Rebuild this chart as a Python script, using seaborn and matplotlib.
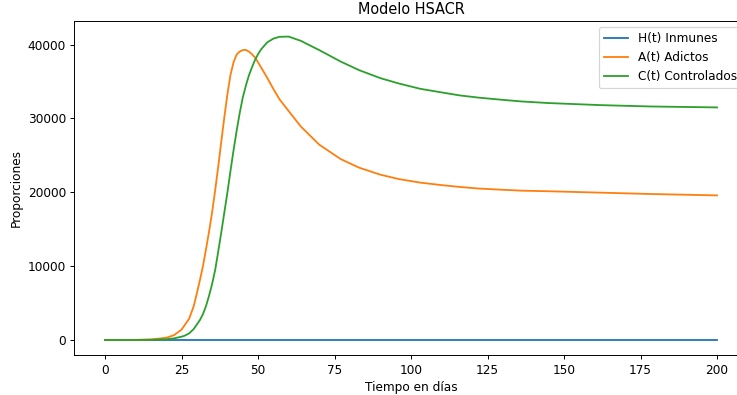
import matplotlib
matplotlib.use("Agg")
import matplotlib.pyplot as plt
import seaborn as sns
import pandas as pd

# valores
t = [0, 5, 10, 15, 20, 22.5, 25, 26, 27.5, 29, 30, 31, 32, 33, 34, 35, 36, 37,
     38, 39, 40, 41, 42, 43, 44, 45, 46, 47, 48, 49, 50, 51, 53, 55, 57, 60,
     64, 70, 77, 83, 90, 96, 103, 110, 116, 122, 129, 136, 145, 162, 178, 200]
H = [0] * len(t)
A = [0, 5, 20, 80, 300, 650, 1400, 2000, 2900, 4600, 6300, 8100, 10000,
     12300, 14700, 17300, 20300, 23500, 26900, 30200, 33300, 35900, 37600,
     38650, 39050, 39250, 39280, 39050, 38700, 38250, 37600, 36900, 35500,
     34000, 32600, 31000, 28900, 26450, 24500, 23340, 22380, 21790, 21310,
     20970, 20720, 20510, 20360, 20220, 20140, 19950, 19770, 19580]
C = [0, 2, 8, 30, 100, 220, 450, 580, 900, 1500, 2100, 2700, 3500, 4600,
     6000, 7600, 9500, 12000, 14600, 17300, 20000, 22900, 25700, 28300,
     30700, 32800, 34400, 35800, 36900, 37900, 38700, 39350, 40300, 40800,
     41050, 41080, 40500, 39250, 37700, 36540, 35450, 34730, 34010, 33520,
     33110, 32820, 32550, 32300, 32080, 31800, 31620, 31490]
labels = ['H(t) Inmunes', 'A(t) Adictos', 'C(t) Controlados']

df = pd.DataFrame({'t': t, 'H': H, 'A': A, 'C': C})

dpi = 87
fig = plt.figure(figsize=(737 / dpi, 395 / dpi), dpi=dpi)
ax = fig.add_axes([0.101, 0.1008, 0.9134, 0.845])

for col, lab, c in zip(['H', 'A', 'C'], labels, ['C0', 'C1', 'C2']):
    sns.lineplot(data=df, x='t', y=col, color=c, label=lab, ax=ax)

ax.set_title('Modelo HSACR')
ax.set_xlabel('Tiempo en días')
ax.set_ylabel('Proporciones')
ax.legend(loc='upper right')

fig.savefig('out.png', dpi=dpi)
